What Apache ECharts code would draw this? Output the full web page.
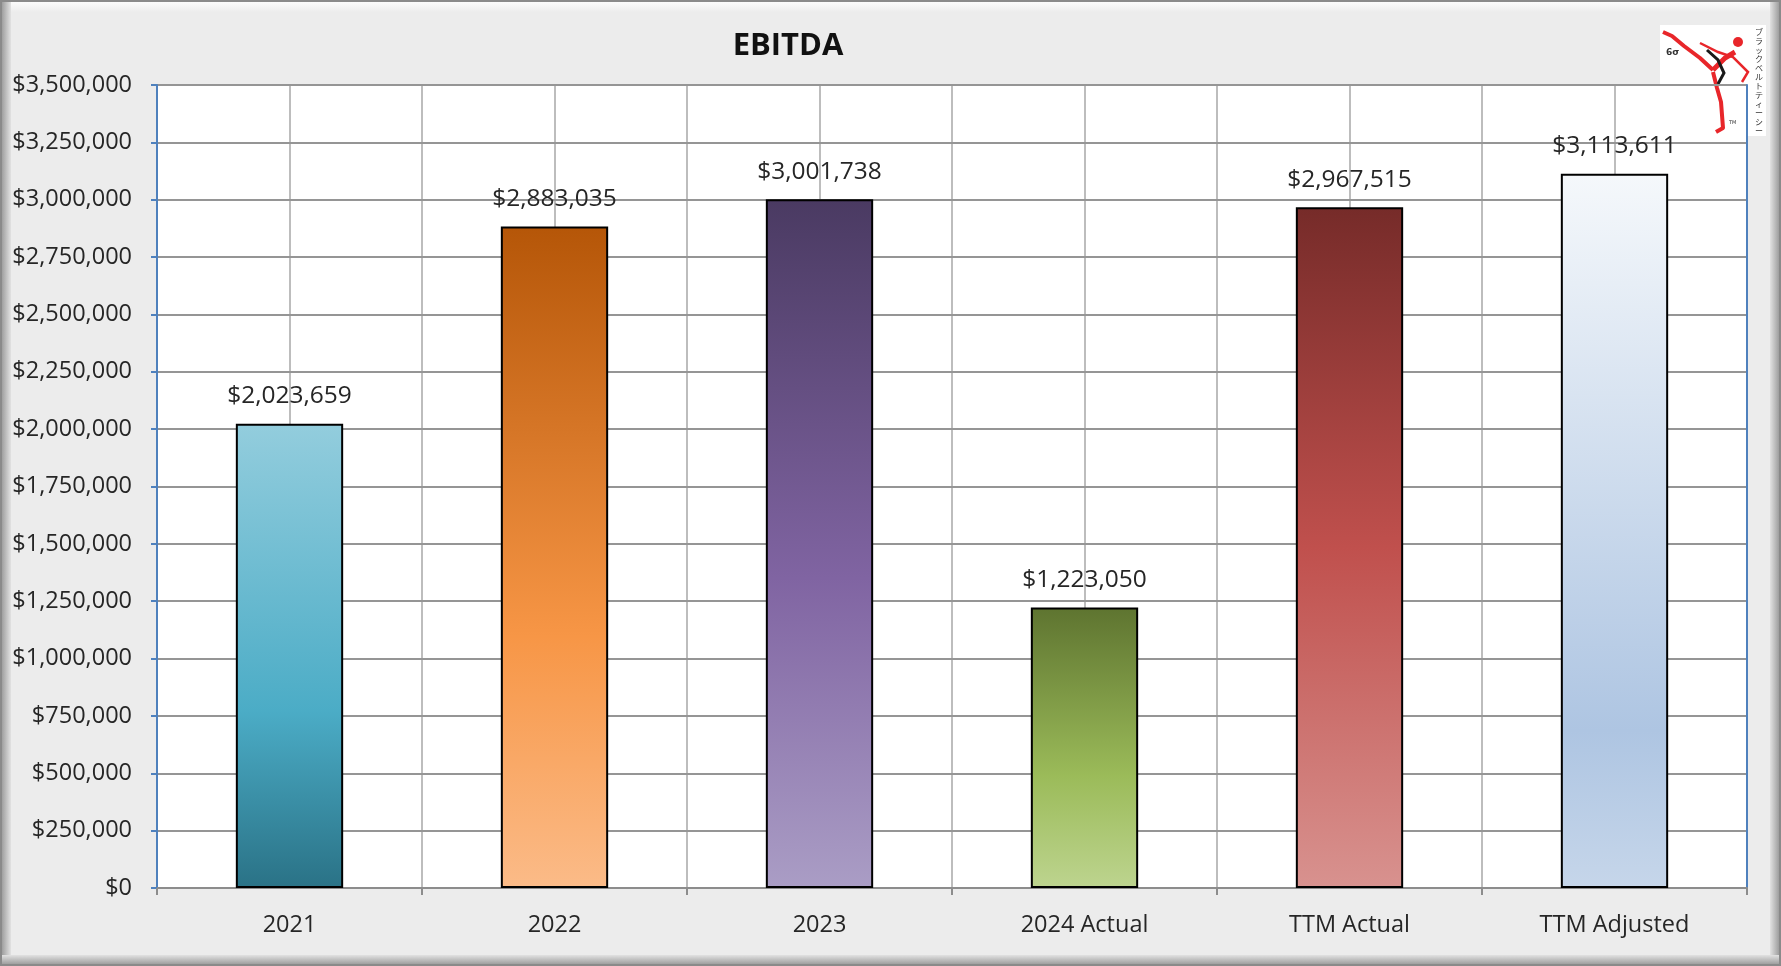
<!DOCTYPE html>
<html>
<head>
<meta charset="utf-8">
<script src="https://cdn.jsdelivr.net/npm/echarts@6/dist/echarts.min.js"></script>
<style>
html,body{margin:0;padding:0;background:#ececec;}
#c{width:1781px;height:966px;}
</style>
</head>
<body>
<div id="c"></div>
<script>
const categories = ['2021', '2022', '2023', '2024 Actual', 'TTM Actual', 'TTM Adjusted'];
const ebitda = [2023659, 2883035, 3001738, 1223050, 2967515, 3113611];
const yTicks = { min: 0, max: 3500000, interval: 250000 };
const title = 'EBITDA';

const gradients = [
  [[0, '#93cddd'], [0.62, '#4bacc6'], [1, '#2a7286']],
  [[0, '#b55608'], [0.62, '#f79646'], [1, '#fbbb88']],
  [[0, '#4a3a62'], [0.55, '#8064a2'], [1, '#aa9dc5']],
  [[0, '#5e7430'], [0.6, '#9bbb59'], [1, '#bdd48f']],
  [[0, '#762b29'], [0.5, '#c0504d'], [1, '#d8928f']],
  [[0, '#f5f8fb'], [0.78, '#aec5e2'], [1, '#c6d6ea']]
];

const FONT = 'Open Sans';
const fmt = v => '$' + Number(v).toLocaleString('en-US');

const seriesData = ebitda.map((v, i) => ({
  value: v,
  itemStyle: {
    color: new echarts.graphic.LinearGradient(0, 0, 0, 1,
      gradients[i].map(s => ({ offset: s[0], color: s[1] })))
  }
}));

const chart = echarts.init(document.getElementById('c'));
chart.setOption({
  animation: false,
  textStyle: { fontFamily: FONT },
  title: {
    text: title,
    left: 783, top: 26, textAlign: 'center',
    textStyle: { fontFamily: FONT, fontWeight: 'bold', fontSize: 31, color: '#111' }
  },
  grid: { left: 157, right: 34, top: 85, bottom: 78, containLabel: false,
    show: true, backgroundColor: '#ffffff', borderWidth: 0 },
  xAxis: [
    {
      type: 'category', data: categories, position: 'bottom',
      axisLine: { show: true, lineStyle: { color: '#8c8c8c', width: 2 } },
      axisTick: { show: true, length: 7, lineStyle: { color: '#8c8c8c', width: 2 } },
      axisLabel: { fontSize: 23.5, color: '#262626', margin: 25, fontFamily: FONT },
      splitLine: { show: false },
      z: 3
    },
    {
      type: 'value', min: 0, max: 12, interval: 1, position: 'top',
      axisLine: { show: true, lineStyle: { color: '#4f81bd', width: 2 } },
      axisTick: { show: false }, axisLabel: { show: false },
      splitLine: { show: true, lineStyle: { color: '#bdbdbd', width: 2 } },
      z: 1
    }
  ],
  yAxis: [
    {
      type: 'value', min: yTicks.min, max: yTicks.max, interval: yTicks.interval,
      axisLine: { show: true, lineStyle: { color: '#4f81bd', width: 2 } },
      axisTick: { show: true, length: 6, lineStyle: { color: '#4f81bd', width: 2 } },
      axisLabel: { formatter: fmt, fontSize: 23.5, color: '#262626', margin: 25, fontFamily: FONT },
      splitLine: { show: true, lineStyle: { color: '#959595', width: 2 } },
      z: 3
    },
    {
      type: 'value', min: yTicks.min, max: yTicks.max, interval: yTicks.interval, position: 'right',
      axisLine: { show: true, lineStyle: { color: '#4f81bd', width: 2 } },
      axisTick: { show: false }, axisLabel: { show: false }, splitLine: { show: false },
      z: 3
    }
  ],
  series: [{
    type: 'bar', xAxisIndex: 0, yAxisIndex: 0,
    data: seriesData, barWidth: '40.5%',
    itemStyle: { borderColor: '#000', borderWidth: 2 },
    label: { show: true, position: 'top', distance: 15, formatter: p => fmt(p.value),
      fontSize: 24.5, color: '#262626', fontFamily: FONT },
    z: 4
  }],
  graphic: [
    { type: 'rect', z: 50, silent: true, shape: { x: 1, y: 1, width: 1779, height: 964 },
      style: { fill: 'none', stroke: '#8a8a8a', lineWidth: 2 } },
    { type: 'rect', z: 49, silent: true, shape: { x: 2, y: 2, width: 9, height: 962 },
      style: { fill: new echarts.graphic.LinearGradient(0, 0, 1, 0, [{offset: 0, color: '#9f9f9f'}, {offset: 1, color: '#e2e2e2'}]) } },
    { type: 'rect', z: 49, silent: true, shape: { x: 1770, y: 2, width: 9, height: 962 },
      style: { fill: new echarts.graphic.LinearGradient(0, 0, 1, 0, [{offset: 0, color: '#e2e2e2'}, {offset: 1, color: '#9f9f9f'}]) } },
    { type: 'rect', z: 49, silent: true, shape: { x: 2, y: 955, width: 1777, height: 9 },
      style: { fill: new echarts.graphic.LinearGradient(0, 0, 0, 1, [{offset: 0, color: '#e2e2e2'}, {offset: 1, color: '#9f9f9f'}]) } },
    { type: 'rect', z: 49, silent: true, shape: { x: 11, y: 2, width: 1759, height: 10 },
      style: { fill: new echarts.graphic.LinearGradient(0, 0, 0, 1, [{offset: 0, color: '#fbfbfb'}, {offset: 1, color: '#ececec'}]) } },
    // logo
    { type: 'group', z: 60, silent: true, children: [
      { type: 'rect', shape: { x: 1660, y: 25, width: 106, height: 111 }, style: { fill: '#ffffff' } },
      { type: 'polyline', shape: { points: [[1663, 32], [1672, 36], [1684, 46], [1700, 58], [1713, 70]] },
        style: { stroke: '#e8262a', lineWidth: 4, fill: 'none', lineJoin: 'round' } },
      { type: 'polyline', shape: { points: [[1713, 70], [1725, 58], [1735, 52]] },
        style: { stroke: '#e8262a', lineWidth: 5, fill: 'none' } },
      { type: 'circle', shape: { cx: 1738, cy: 42, r: 5 }, style: { fill: '#e8262a' } },
      { type: 'polyline', shape: { points: [[1700, 43], [1718, 52], [1733, 57], [1748, 72], [1742, 82]] },
        style: { stroke: '#e8262a', lineWidth: 2.5, fill: 'none' } },
      { type: 'polyline', shape: { points: [[1713, 72], [1717, 88], [1721, 102], [1723, 128], [1716, 132]] },
        style: { stroke: '#e8262a', lineWidth: 4, fill: 'none', lineJoin: 'round' } },
      { type: 'polyline', shape: { points: [[1707, 50], [1718, 60], [1724, 73], [1718, 84]] },
        style: { stroke: '#1a1a1a', lineWidth: 3, fill: 'none' } },
      { type: 'text', style: { x: 1666, y: 48, text: '6σ', fontSize: 9, fontWeight: 'bold', fill: '#333', fontFamily: 'DejaVu Sans' } },
      { type: 'text', style: { x: 1729, y: 120, text: 'TM', fontSize: 5, fill: '#333', fontFamily: 'DejaVu Sans' } },
      { type: 'text', style: { x: 1755, y: 27, text: 'ブ\nラ\nッ\nク\nベ\nル\nト\nテ\nィ\nー\nシ\nー', fontSize: 8, lineHeight: 9, fill: '#333', fontFamily: 'Noto Sans CJK JP' } }
    ]}
  ]
});
</script>
</body>
</html>
